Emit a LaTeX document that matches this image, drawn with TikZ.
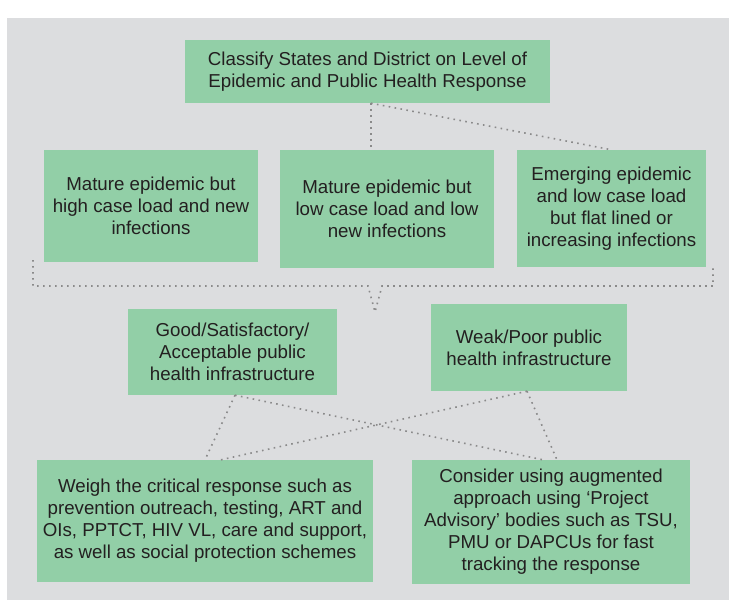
\documentclass[tikz,border=0pt]{standalone}
\usepackage{fontspec}
\setmainfont{Liberation Sans}
\usetikzlibrary{calc}
\definecolor{boxgreen}{HTML}{92CFA7}
\definecolor{bggray}{HTML}{DCDDDF}
\definecolor{txt}{HTML}{231F20}
\definecolor{dotgray}{HTML}{8A8A8A}
\tikzset{
  gbox/.style={rectangle, fill=boxgreen, draw=none, inner sep=0pt, align=center,
    text=txt, font=\fontsize{18.7}{22}\selectfont},
  dotline/.style={draw=dotgray, line width=1.6pt, line cap=butt, dash pattern=on 1.6pt off 4.4pt}
}
\begin{document}
\begin{tikzpicture}[x=1pt,y=-1pt]
\useasboundingbox (0,0) rectangle (731,605);
\fill[white] (0,0) rectangle (731,605);
\fill[bggray] (7,18) rectangle (729,600);

\node[gbox, minimum width=365pt, minimum height=63pt] (top) at (367.5,71.5)
  {Classify States and District on Level of\\Epidemic and Public Health Response};

\node[gbox, minimum width=214pt, minimum height=112pt] (A) at (151,206)
  {Mature epidemic but\\high case load and new\\infections};
\node[gbox, minimum width=214pt, minimum height=118pt] (B) at (387,209)
  {Mature epidemic but\\low case load and low\\new infections};
\node[gbox, minimum width=189pt, minimum height=117pt] (C) at (611.5,208.5)
  {Emerging epidemic\\and low case load\\but flat lined or\\increasing infections};

\node[gbox, minimum width=209pt, minimum height=86pt] (D) at (232.5,352)
  {Good/Satisfactory/\\Acceptable public\\health infrastructure};
\node[gbox, minimum width=196pt, minimum height=87pt] (E) at (529,347.5)
  {Weak/Poor public\\health infrastructure};

\node[gbox, minimum width=336pt, minimum height=122pt] (F) at (205,521)
  {Weigh the critical response such as\\prevention outreach, testing, ART and\\OIs, PPTCT, HIV VL, care and support,\\as well as social protection schemes};
\node[gbox, minimum width=278pt, minimum height=124pt] (G) at (551,522)
  {Consider using augmented\\approach using ‘Project\\Advisory’ bodies such as TSU,\\PMU or DAPCUs for fast\\tracking the response};

% top connectors
\coordinate (tb) at ($(top.south)+(3.5,0)$);
\draw[dotline] (tb) -- (tb |- B.north);
\draw[dotline] (tb) -- (C.north);

% bracket
\coordinate (bl1) at (33,260);
\coordinate (bl2) at (33,286);
\coordinate (bm1) at (368,286);
\coordinate (bp) at (375,312);
\coordinate (bm2) at (382,286);
\coordinate (br2) at (713,286);
\coordinate (br1) at (713,265);
\draw[dotline] (bl1) -- (bl2) -- (bm1) -- (bp) -- (bm2) -- (br2) -- (br1);

% lower connectors
\coordinate (ds) at ($(D.south)+(2.5,0)$);
\coordinate (es) at ($(E.south)+(-2,0)$);
\draw[dotline] (ds) -- (F.north);
\draw[dotline] (ds) -- ($(G.north)+(-8,0)$);
\draw[dotline] (es) -- ($(F.north)+(16,0)$);
\draw[dotline] (es) -- ($(G.north)+(6,0)$);
\end{tikzpicture}
\end{document}
